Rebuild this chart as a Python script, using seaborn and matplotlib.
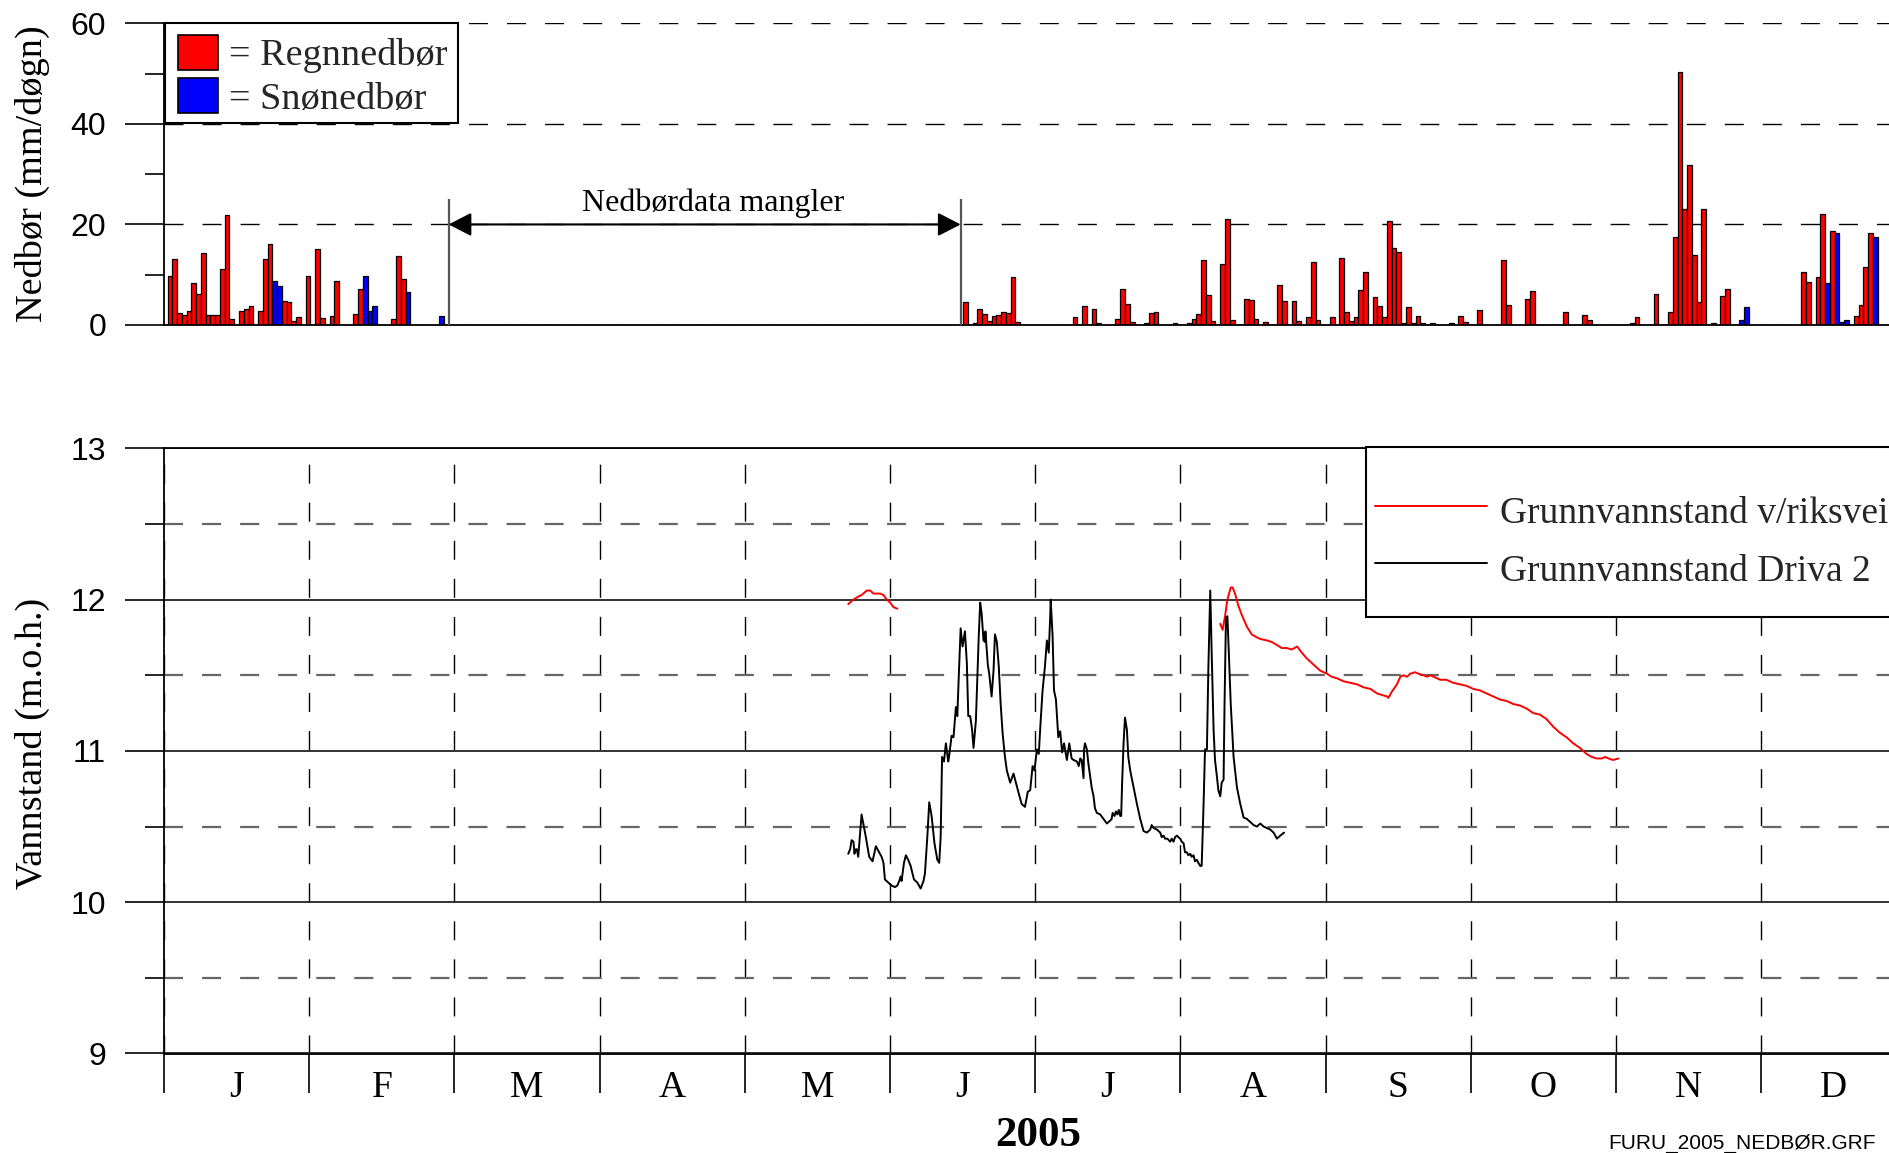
import numpy as np
import pandas as pd
import matplotlib
matplotlib.use("Agg")
import matplotlib.pyplot as plt
import seaborn as sns
from matplotlib.patches import Rectangle, Patch
from matplotlib.lines import Line2D

# ---------------- data ----------------
# daily precipitation (day of year, mm)
rain = [(1, 9.8), (2, 13.1), (3, 2.4), (4, 2.0), (5, 2.7), (6, 8.3), (7, 6.1), (8, 14.3), (9, 1.9), (10, 1.9),
        (11, 2.0), (12, 11.1), (13, 21.9), (14, 1.1), (16, 2.7), (17, 3.2), (18, 3.8), (20, 2.7), (21, 13.1),
        (22, 16.2), (25, 4.7), (26, 4.6), (27, 0.7), (28, 1.6), (30, 9.7), (32, 15.1), (33, 1.3), (35, 1.7),
        (36, 8.7), (40, 2.2), (41, 7.2), (48, 1.1), (49, 13.8), (50, 9.1),
        (168, 4.5), (170, 0.3), (171, 3.1), (172, 2.1), (173, 0.7), (174, 1.8), (175, 1.9), (176, 2.6),
        (177, 2.4), (178, 9.5), (179, 0.6), (191, 1.5), (193, 3.7), (195, 3.1), (196, 0.4), (200, 1.2),
        (201, 7.1), (202, 4.1), (203, 0.6), (206, 0.3), (207, 2.4), (208, 2.5), (212, 0.4), (215, 0.4),
        (216, 1.2), (217, 2.1), (218, 12.9), (219, 5.9), (220, 0.8), (222, 12.1), (223, 21.1), (224, 0.9),
        (227, 5.2), (228, 5.0), (229, 1.2), (231, 0.6), (234, 7.9), (235, 4.8), (237, 4.7), (238, 0.7),
        (240, 1.5), (241, 12.5), (242, 0.9), (245, 1.5), (247, 13.3), (248, 2.5), (249, 0.7), (250, 1.5),
        (251, 7.0), (252, 10.5), (254, 5.5), (255, 3.7), (256, 1.5), (257, 20.6), (258, 15.4), (259, 14.5),
        (260, 0.4), (261, 3.6), (262, 0.4), (263, 1.7), (264, 0.4), (266, 0.3), (270, 0.3), (272, 1.7),
        (273, 0.5), (276, 2.9), (281, 13.0), (282, 3.9), (286, 5.2), (287, 6.8), (294, 2.5), (298, 1.9),
        (299, 0.9), (308, 0.4), (309, 1.6), (313, 6.1), (316, 2.5), (317, 17.6), (318, 50.4), (319, 23.0),
        (320, 31.9), (321, 14.0), (322, 4.6), (323, 23.0), (325, 0.3), (327, 5.8), (328, 7.2), (344, 10.6),
        (345, 8.6), (347, 9.6), (348, 22.1), (350, 18.6), (355, 1.7), (356, 4.0), (357, 11.5), (358, 18.3)]
snow = [(23, 8.7), (24, 7.7), (42, 9.8), (43, 2.8), (44, 3.7), (51, 6.5), (58, 1.7), (331, 1.0), (332, 3.5),
        (349, 8.3), (351, 18.3), (352, 0.5), (353, 1.0), (359, 17.5)]
gap_start, gap_end = 59.5, 167.0      # "Nedbørdata mangler"
gap_text_day, gap_text_mm = 115.0, 22.7

# groundwater level (day of year, m.o.h.)
driva2 = [(143.4, 10.32), (143.8, 10.35), (144.1, 10.41), (144.5, 10.40), (144.7, 10.32), (145.0, 10.35),
          (145.2, 10.35), (145.5, 10.30), (146.2, 10.58), (147.1, 10.43), (147.8, 10.30), (148.5, 10.27),
          (149.2, 10.37), (149.9, 10.33), (150.4, 10.30), (150.8, 10.26), (151.1, 10.15), (151.8, 10.13),
          (152.5, 10.11), (153.2, 10.10), (153.7, 10.11), (154.1, 10.14), (154.4, 10.17), (154.6, 10.14),
          (155.1, 10.26), (155.5, 10.31), (156.0, 10.28), (156.5, 10.24), (157.2, 10.15), (157.9, 10.13),
          (158.6, 10.09), (159.2, 10.14), (159.5, 10.19), (160.0, 10.43), (160.4, 10.66), (160.9, 10.57),
          (161.5, 10.39), (162.1, 10.28), (162.5, 10.26), (162.8, 10.43), (163.1, 10.96), (163.5, 10.93),
          (163.9, 11.05), (164.4, 10.93), (164.6, 10.97), (165.1, 11.10), (165.5, 11.09), (166.0, 11.29),
          (166.3, 11.23), (166.6, 11.49), (167.0, 11.81), (167.4, 11.69), (167.9, 11.79), (168.3, 11.58),
          (168.6, 11.23), (169.0, 11.23), (169.4, 11.14), (169.7, 11.02), (170.2, 11.20), (170.5, 11.49),
          (170.8, 11.76), (171.1, 11.98), (171.4, 11.91), (171.8, 11.73), (172.1, 11.72), (172.2, 11.79),
          (172.7, 11.57), (173.0, 11.51), (173.5, 11.36), (173.9, 11.53), (174.2, 11.77), (174.6, 11.72),
          (175.0, 11.56), (175.4, 11.31), (175.8, 11.12), (176.3, 10.96), (176.7, 10.87), (177.4, 10.79),
          (178.1, 10.85), (178.6, 10.79), (179.1, 10.73), (179.8, 10.65), (180.5, 10.63), (181.1, 10.73),
          (181.6, 10.74), (182.1, 10.90), (182.5, 10.87), (183.0, 11.01), (183.4, 10.98), (183.8, 11.20),
          (184.2, 11.40), (184.7, 11.56), (185.1, 11.73), (185.5, 11.65), (185.8, 11.89), (185.9, 12.00),
          (186.3, 11.76), (186.6, 11.40), (187.0, 11.34), (187.5, 11.09), (187.9, 11.13), (188.3, 10.99),
          (188.7, 11.05), (189.3, 10.94), (189.8, 11.05), (190.3, 10.95), (190.7, 10.94), (191.4, 10.93),
          (191.8, 10.90), (192.1, 10.95), (192.4, 10.94), (192.8, 10.82), (192.9, 11.01), (193.1, 11.05),
          (193.5, 11.01), (193.8, 10.92), (194.2, 10.83), (194.5, 10.76), (194.9, 10.70), (195.2, 10.62),
          (195.6, 10.59), (196.3, 10.58), (197.0, 10.55), (197.7, 10.52), (198.4, 10.54), (198.7, 10.55),
          (198.9, 10.59), (199.3, 10.57), (199.6, 10.60), (199.9, 10.58), (200.2, 10.61), (200.5, 10.57),
          (200.7, 10.57), (200.9, 10.79), (201.2, 11.05), (201.5, 11.22), (201.9, 11.14), (202.2, 10.96),
          (202.6, 10.87), (203.3, 10.76), (204.0, 10.65), (204.7, 10.55), (205.4, 10.47), (206.1, 10.46),
          (206.8, 10.48), (207.1, 10.51), (207.5, 10.49), (208.2, 10.48), (208.9, 10.46), (209.2, 10.43),
          (209.6, 10.44), (209.9, 10.42), (210.4, 10.42), (211.0, 10.40), (211.3, 10.42), (211.7, 10.40),
          (212.0, 10.43), (212.4, 10.44), (212.7, 10.43), (213.1, 10.42), (213.4, 10.40), (213.8, 10.39),
          (214.1, 10.33), (214.5, 10.33), (214.8, 10.31), (215.2, 10.32), (215.5, 10.30), (215.9, 10.31),
          (216.2, 10.27), (216.6, 10.28), (216.9, 10.26), (217.3, 10.24), (217.6, 10.24), (218.0, 10.65),
          (218.3, 11.01), (218.7, 11.01), (219.0, 11.54), (219.4, 12.06), (219.7, 11.65), (220.1, 11.14),
          (220.4, 10.94), (220.8, 10.83), (221.1, 10.74), (221.5, 10.70), (221.8, 10.79), (222.2, 10.81),
          (222.4, 11.31), (222.7, 11.88), (223.0, 11.89), (223.3, 11.65), (223.7, 11.31), (224.3, 10.96),
          (225.0, 10.76), (225.7, 10.65), (226.4, 10.56), (227.1, 10.55), (227.8, 10.53), (228.5, 10.51),
          (229.2, 10.50), (229.9, 10.52), (230.6, 10.50), (231.3, 10.49), (232.0, 10.48), (232.7, 10.46),
          (233.4, 10.42), (234.1, 10.44), (234.9, 10.46)]
riksvei_a = [(143.4, 11.97), (144.5, 12.00), (145.5, 12.02), (146.2, 12.03), (147.3, 12.06), (148.0, 12.06),
             (148.7, 12.04), (149.4, 12.04), (150.1, 12.04), (150.8, 12.03), (151.5, 12.00), (152.2, 11.98),
             (152.9, 11.95), (153.7, 11.94)]
riksvei_b = [(221.5, 11.84), (222.0, 11.80), (222.5, 11.89), (223.0, 12.00), (223.7, 12.08), (224.1, 12.08),
             (224.6, 12.04), (225.3, 11.96), (226.0, 11.90), (227.1, 11.82), (228.1, 11.77), (229.2, 11.75),
             (229.9, 11.74), (231.3, 11.73), (232.3, 11.72), (233.4, 11.70), (234.4, 11.68), (235.5, 11.68),
             (236.5, 11.67), (237.1, 11.68), (237.6, 11.69), (237.9, 11.68), (238.6, 11.65), (239.7, 11.61),
             (241.1, 11.57), (242.5, 11.53), (243.9, 11.51), (244.9, 11.49), (246.0, 11.48), (247.4, 11.46),
             (248.8, 11.45), (250.2, 11.44), (251.6, 11.42), (253.0, 11.41), (254.4, 11.38), (255.4, 11.37),
             (256.5, 11.36), (256.8, 11.35), (257.5, 11.39), (258.6, 11.44), (259.3, 11.49), (260.0, 11.50),
             (260.7, 11.49), (261.4, 11.51), (262.4, 11.52), (263.1, 11.51), (264.2, 11.50), (264.9, 11.49),
             (265.6, 11.50), (266.3, 11.49), (267.7, 11.47), (269.0, 11.47), (270.4, 11.45), (271.8, 11.44),
             (273.2, 11.43), (274.6, 11.41), (276.0, 11.40), (277.4, 11.38), (278.8, 11.36), (280.2, 11.34),
             (281.6, 11.33), (283.0, 11.31), (284.4, 11.30), (285.8, 11.28), (287.2, 11.25), (288.6, 11.24),
             (290.0, 11.21), (291.4, 11.16), (292.8, 11.12), (294.2, 11.09), (295.6, 11.05), (297.0, 11.02),
             (298.4, 10.98), (299.5, 10.96), (300.5, 10.95), (301.6, 10.95), (302.3, 10.96), (303.0, 10.95),
             (304.0, 10.94), (305.1, 10.95)]

months = ["J", "F", "M", "A", "M", "J", "J", "A", "S", "O", "N", "D"]
precip_ticks = [0, 20, 40, 60]
precip_minor = [10, 30, 50]
level_ticks = [9, 10, 11, 12, 13]
level_minor = [9.5, 10.5, 11.5, 12.5]
legend_top = ["= Regnnedbør", "= Snønedbør"]
legend_bottom = ["Grunnvannstand v/riksvei", "Grunnvannstand Driva 2"]
year_label = "2005"
file_label = "FURU_2005_NEDBØR.GRF"

rain_df = pd.DataFrame(rain, columns=["day", "mm"])
snow_df = pd.DataFrame(snow, columns=["day", "mm"])
drv_df = pd.DataFrame(driva2, columns=["day", "lvl"])
rva_df = pd.DataFrame(riksvei_a, columns=["day", "lvl"])
rvb_df = pd.DataFrame(riksvei_b, columns=["day", "lvl"])

# ---------------- style ----------------
sns.set_theme(style="white")
SERIF = "Liberation Serif"
SANS = "Liberation Sans"
plt.rcParams["font.family"] = [SERIF, "DejaVu Serif"]
plt.rcParams["lines.scale_dashes"] = False

W, H = 1890, 1153
fig = plt.figure(figsize=(W / 100, H / 100), dpi=100)
L, R = 164.0, 1906.4
ax1 = fig.add_axes([L / W, 1 - 325.0 / H, (R - L) / W, (325.0 - 23.3) / H])
ax2 = fig.add_axes([L / W, 1 - 1053.5 / H, (R - L) / W, (1053.5 - 448.3) / H])

XMIN, XMAX = -0.25, 365.55
span = XMAX - XMIN
bounds = [XMIN + k * span / 12 for k in range(13)]
centers = [XMIN + (k + 0.5) * span / 12 for k in range(12)]
DASH = (0, (13.7, 13.7))
TICKFS = 23

# ---------------- top: precipitation ----------------
sns.barplot(data=rain_df, x="day", y="mm", native_scale=True, orient="x", width=1, color="#ff0000",
            saturation=1, edgecolor="black", linewidth=0.9, errorbar=None, ax=ax1)
sns.barplot(data=snow_df, x="day", y="mm", native_scale=True, orient="x", width=1, color="#0000ff",
            saturation=1, edgecolor="black", linewidth=0.9, errorbar=None, ax=ax1)
ax1.set_xlim(XMIN, XMAX)
ax1.set_ylim(0, 60)
ax1.set_xticks([])
ax1.set_xlabel("")
ax1.set_yticks(precip_ticks, labels=[str(v) for v in precip_ticks], fontfamily=SANS, fontsize=TICKFS)
ax1.set_yticks(precip_minor, minor=True)
ax1.tick_params(axis="y", which="major", left=True, direction="out", length=28, width=1.2, pad=13.7,
                colors="black")
ax1.tick_params(axis="y", which="minor", left=True, direction="out", length=14, width=1.2, colors="black")
ax1.yaxis.grid(True, which="major", linestyle=DASH, color="black", linewidth=1.0)
ax1.xaxis.grid(False)
for s in ["top", "right"]:
    ax1.spines[s].set_visible(False)
for s in ["left", "bottom"]:
    ax1.spines[s].set_color("black")
    ax1.spines[s].set_linewidth(1.3)
ax1.set_ylabel("Nedbør (mm/døgn)", fontsize=27.5, fontfamily=SERIF, color="black")
ax1.yaxis.set_label_coords(-0.0654, 0.5)

ax1.vlines([gap_start, gap_end], 0, 25, colors="#555555", linewidth=1.6, zorder=6)
ax1.annotate("", xy=(gap_start, 20), xytext=(gap_end, 20),
             arrowprops=dict(arrowstyle="<|-|>,head_length=0.7,head_width=0.36", mutation_scale=20,
                             color="black", lw=1.5, shrinkA=0, shrinkB=0), zorder=6)
ax1.text(gap_text_day, gap_text_mm, "Nedbørdata mangler", ha="center", va="baseline", fontsize=23,
         fontfamily=SERIF, color="black", zorder=6)

ax1.add_patch(Rectangle((0.0006, 0.6695), 0.1682, 0.3305, transform=ax1.transAxes, facecolor="white",
                        edgecolor="black", linewidth=1.5, zorder=4, clip_on=False))
ax1.legend(handles=[Patch(facecolor="#ff0000", edgecolor="black", linewidth=1.2),
                    Patch(facecolor="#0000ff", edgecolor="black", linewidth=1.2)],
           labels=legend_top, loc="upper left", bbox_to_anchor=(178 / W, 1 - 35 / H),
           bbox_transform=fig.transFigure, frameon=False, borderpad=0, borderaxespad=0,
           handlelength=1.04, handleheight=1.02, handletextpad=0.29, labelspacing=0.13,
           prop={"family": SERIF, "size": 27.5})

# ---------------- bottom: groundwater ----------------
sns.lineplot(data=rva_df, x="day", y="lvl", color="#ff0000", linewidth=1.4, estimator=None, sort=False, ax=ax2)
sns.lineplot(data=rvb_df, x="day", y="lvl", color="#ff0000", linewidth=1.4, estimator=None, sort=False, ax=ax2)
sns.lineplot(data=drv_df, x="day", y="lvl", color="black", linewidth=1.4, estimator=None, sort=False, ax=ax2)
ax2.set_xlim(XMIN, XMAX)
ax2.set_ylim(9, 13)
ax2.set_yticks(level_ticks, labels=[str(v) for v in level_ticks], fontfamily=SANS, fontsize=TICKFS)
ax2.set_yticks(level_minor, minor=True)
ax2.set_xticks(bounds, labels=[""] * len(bounds))
ax2.set_xticks(centers, labels=months, minor=True, fontsize=27, fontfamily=SERIF)
ax2.tick_params(axis="y", which="major", left=True, direction="out", length=28, width=1.2, pad=13.7,
                colors="black")
ax2.tick_params(axis="y", which="minor", left=True, direction="out", length=14, width=1.2, colors="black")
ax2.tick_params(axis="x", which="major", bottom=True, direction="out", length=28, width=1.2, colors="black")
ax2.tick_params(axis="x", which="minor", bottom=True, length=0, pad=12, colors="black")
ax2.yaxis.grid(True, which="major", linestyle="-", color="#222222", linewidth=1.3)
ax2.yaxis.grid(True, which="minor", linestyle=DASH, color="#666666", linewidth=1.6)
ax2.xaxis.grid(True, which="major", linestyle=DASH, color="black", linewidth=1.0)
ax2.xaxis.grid(False, which="minor")
for s in ["left", "bottom", "top", "right"]:
    ax2.spines[s].set_color("black")
    ax2.spines[s].set_linewidth(1.3)
ax2.set_ylabel("Vannstand (m.o.h.)", fontsize=27.5, fontfamily=SERIF, color="black")
ax2.yaxis.set_label_coords(-0.0654, 0.512)
ax2.set_xlabel(year_label, fontsize=31, fontweight="bold", fontfamily=SERIF, color="black")
ax2.xaxis.set_label_coords(0.5016, -0.105)

ax2.add_patch(Rectangle((0.6898, 0.7213), 0.35, 0.2809, transform=ax2.transAxes, facecolor="white",
                        edgecolor="black", linewidth=1.5, zorder=4, clip_on=False))
ax2.legend(handles=[Line2D([], [], color="#ff0000", linewidth=1.4), Line2D([], [], color="black", linewidth=1.4)],
           labels=legend_bottom, loc="upper left", bbox_to_anchor=(1375 / W, 1 - 488 / H),
           bbox_transform=fig.transFigure, frameon=False, borderpad=0, borderaxespad=0,
           handlelength=2.99, handleheight=1.51, handletextpad=0.35, labelspacing=0.30,
           prop={"family": SERIF, "size": 27})

fig.text(1608 / W, 1 - 1143 / H, file_label, ha="left", va="center", fontsize=15, fontfamily=SANS,
         color="black")

fig.savefig("out.png", dpi=100)
